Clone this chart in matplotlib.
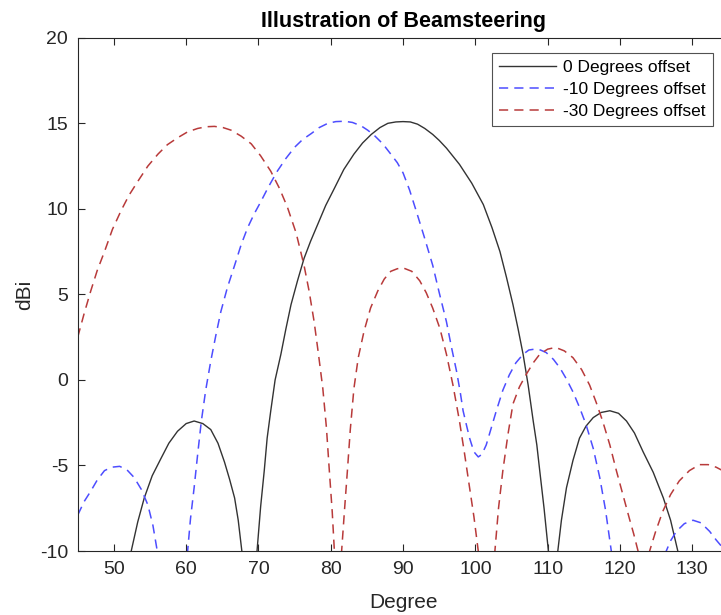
import numpy as np
from matplotlib import pyplot as plt

plt.rcParams['font.family'] = ['Liberation Sans', 'DejaVu Sans']
plt.rcParams['axes.unicode_minus'] = False

# 0 degrees offset (nulls go below the axis)
deg_0 = [52.4, 53.3, 54.2, 55.3, 56.5, 57.6, 58.8, 60.0, 61.1, 62.3, 63.4, 64.4,
         65.3, 66.0, 66.7, 67.2, 67.7, 68.7,
         69.8, 70.3, 70.8, 71.2, 71.7, 72.3, 73.1, 73.8, 74.5, 75.4, 76.3, 77.2,
         78.2, 79.3, 80.5, 81.8, 83.2, 84.4, 85.6, 86.8, 87.9, 89.0, 90.0, 91.0,
         92.0, 93.0, 94.1, 95.0, 96.0, 97.8, 99.5, 101.1, 102.3, 103.4, 104.3,
         105.2, 105.9, 106.6, 107.3, 108.0, 108.5, 108.9, 109.5, 110.1, 110.8,
         111.4, 111.9, 112.6, 113.5, 114.4, 115.3, 116.3, 117.4, 118.6, 119.8,
         120.9, 122.0, 123.2, 124.6, 126.0, 127.0, 128.0, 128.8]
dbi_0 = [-10, -8.3, -6.9, -5.6, -4.6, -3.7, -3.0, -2.55, -2.4, -2.55, -2.9, -3.7,
         -4.8, -5.8, -6.9, -8.2, -10, -25,
         -10, -7.4, -5.3, -3.4, -1.8, 0.0, 1.5, 3.0, 4.4, 5.8, 7.1, 8.1,
         9.1, 10.2, 11.2, 12.3, 13.2, 13.85, 14.35, 14.75, 15.0, 15.08, 15.1, 15.08,
         14.95, 14.7, 14.35, 14.0, 13.55, 12.6, 11.5, 10.25, 8.9, 7.5, 6.0,
         4.4, 3.0, 1.5, -0.3, -2.4, -3.8, -5.3, -7.5, -10, -25,
         -10, -8.2, -6.3, -4.7, -3.4, -2.7, -2.2, -1.9, -1.8, -1.95,
         -2.4, -3.1, -4.2, -5.4, -6.9, -8.2, -10, -25]

# -10 degrees offset
deg_10 = [45.0, 45.9, 46.8, 47.7, 48.7, 49.7, 50.8, 51.8, 52.8, 53.8, 54.7, 55.4,
          56.0, 58.1,
          60.2, 60.6, 61.1, 61.6, 62.1, 62.7, 63.4, 64.1, 64.8, 65.7, 66.7, 67.6,
          68.5, 69.4, 70.3, 71.4, 72.6, 73.8, 75.0, 76.1, 77.3, 78.4, 79.6, 80.7,
          81.9, 83.0, 84.2, 85.1, 86.0, 87.2, 88.3, 89.2, 90.0, 90.9, 91.8, 92.9,
          94.1, 95.0, 96.0, 96.7, 97.4, 97.9, 98.3, 98.8, 99.2, 99.8, 100.4, 100.9,
          101.5, 102.2, 102.9, 103.8, 104.7, 105.6, 106.6, 107.4, 108.2, 109.0,
          109.8, 110.8, 111.7, 112.6, 113.5, 114.4, 115.3, 116.3, 117.2, 118.0,
          118.8, 122.6,
          126.4, 127.0, 127.8, 128.9, 130.1, 131.2, 132.4, 133.3, 134.2]
dbi_10 = [-7.9, -7.1, -6.5, -5.85, -5.3, -5.1, -5.05, -5.25, -5.7, -6.4, -7.3, -8.5,
          -10, -25,
          -10, -8.1, -6.3, -4.3, -2.4, -0.6, 1.1, 2.6, 4.0, 5.4, 6.7, 7.9,
          8.9, 9.7, 10.4, 11.3, 12.2, 12.95, 13.6, 14.05, 14.4, 14.75, 15.0, 15.1,
          15.12, 15.05, 14.85, 14.6, 14.3, 13.8, 13.2, 12.7, 12.1, 11.1, 9.9, 8.4,
          6.7, 5.1, 3.4, 1.9, 0.5, -0.7, -1.8, -2.7, -3.4, -4.2, -4.5, -4.35,
          -3.8, -2.8, -1.8, -0.6, 0.3, 1.0, 1.5, 1.75, 1.8, 1.75,
          1.6, 1.2, 0.7, 0.05, -0.7, -1.6, -2.6, -4.0, -5.7, -7.6,
          -10, -25,
          -10, -9.4, -8.85, -8.4, -8.2, -8.35, -8.85, -9.35, -9.8]

# -30 degrees offset
deg_30 = [45.0, 45.9, 46.8, 47.7, 48.7, 49.8, 51.0, 52.1, 53.3, 54.7, 56.1, 57.4,
          58.8, 60.2, 61.6, 62.8, 63.9, 65.1, 66.2, 67.6, 69.0, 70.3, 71.7, 72.9,
          74.0, 75.2, 76.3, 77.0, 77.7, 78.3, 78.9, 79.4, 79.8, 80.2, 80.5, 81.0,
          81.5, 81.9, 82.3, 82.7, 83.2, 83.8, 84.6, 85.5, 86.5, 87.4, 88.3, 89.2,
          90.0, 91.2, 92.3, 93.2, 94.1, 95.1, 96.0, 96.9, 97.8, 98.5, 99.2, 99.8,
          100.4, 101.5,
          102.7, 103.2, 103.8, 104.5, 105.2, 106.1, 107.0, 108.0, 108.9, 110.0,
          111.1, 112.3, 113.5, 114.7, 115.8, 116.7, 117.6, 118.6, 119.5, 120.4,
          121.3, 121.9, 122.5, 123.3,
          124.1, 124.9, 125.9, 127.0, 128.2, 129.6, 131.0, 132.2, 133.3, 134.2]
dbi_30 = [2.5, 3.9, 5.2, 6.4, 7.5, 8.8, 9.9, 10.8, 11.6, 12.5, 13.2, 13.75,
          14.15, 14.5, 14.7, 14.8, 14.82, 14.75, 14.6, 14.25, 13.8, 13.1, 12.2, 11.2,
          10.1, 8.6, 6.7, 5.2, 3.4, 1.5, -0.5, -2.8, -5.3, -7.7, -10, -25,
          -10, -7.6, -5.3, -2.9, -0.5, 1.3, 2.85, 4.2, 5.2, 5.9, 6.35, 6.5,
          6.55, 6.35, 5.8, 5.1, 4.2, 3.0, 1.5, -0.3, -2.4, -4.3, -6.3, -8.0,
          -10, -25,
          -10, -7.5, -5.3, -3.2, -1.4, -0.4, 0.3, 1.0, 1.5, 1.8,
          1.9, 1.7, 1.3, 0.6, -0.3, -1.3, -2.4, -3.8, -5.3, -6.7,
          -8.1, -9.0, -10, -25,
          -10, -8.9, -7.7, -6.7, -5.9, -5.3, -4.95, -4.95, -5.1, -5.3]

fig = plt.figure(figsize=(7.21, 6.15), dpi=100)
ax = fig.add_axes([0.1078, 0.104, 0.9025, 0.8346])

ax.plot(deg_0, dbi_0, '-', color='#333333', lw=1.0, label='0 Degrees offset')
ax.plot(deg_10, dbi_10, '--', color='#4d4dff', lw=1.1, dashes=(6, 4),
        label='-10 Degrees offset')
ax.plot(deg_30, dbi_30, '--', color='#b83a3a', lw=1.1, dashes=(6, 4),
        label='-30 Degrees offset')

ax.set_xlim(45, 135)
ax.set_ylim(-10, 20)
ax.set_xticks(np.arange(50, 131, 10))
ax.set_yticks(np.arange(-10, 21, 5))
ax.tick_params(direction='in', top=True, right=True, length=5, pad=7,
               labelsize=14, colors='#262626', width=0.8)
for s in ax.spines.values():
    s.set_color('#262626')
    s.set_linewidth(0.8)

ax.set_xlabel('Degree', fontsize=15, color='#262626', labelpad=11)
ax.set_ylabel('dBi', fontsize=15, color='#262626', labelpad=4)
ax.set_title('Illustration of Beamsteering', fontsize=15.5, fontweight='bold', pad=8)

leg = ax.legend(loc='upper right', bbox_to_anchor=(713 / 721, 1 - 53 / 615),
                bbox_transform=fig.transFigure, fontsize=12.5, fancybox=False,
                edgecolor='#262626', handlelength=3.3, borderaxespad=0,
                labelspacing=0.4, handletextpad=0.4, borderpad=0.4)
leg.get_frame().set_linewidth(0.8)

fig.savefig('out.png', dpi=100)
